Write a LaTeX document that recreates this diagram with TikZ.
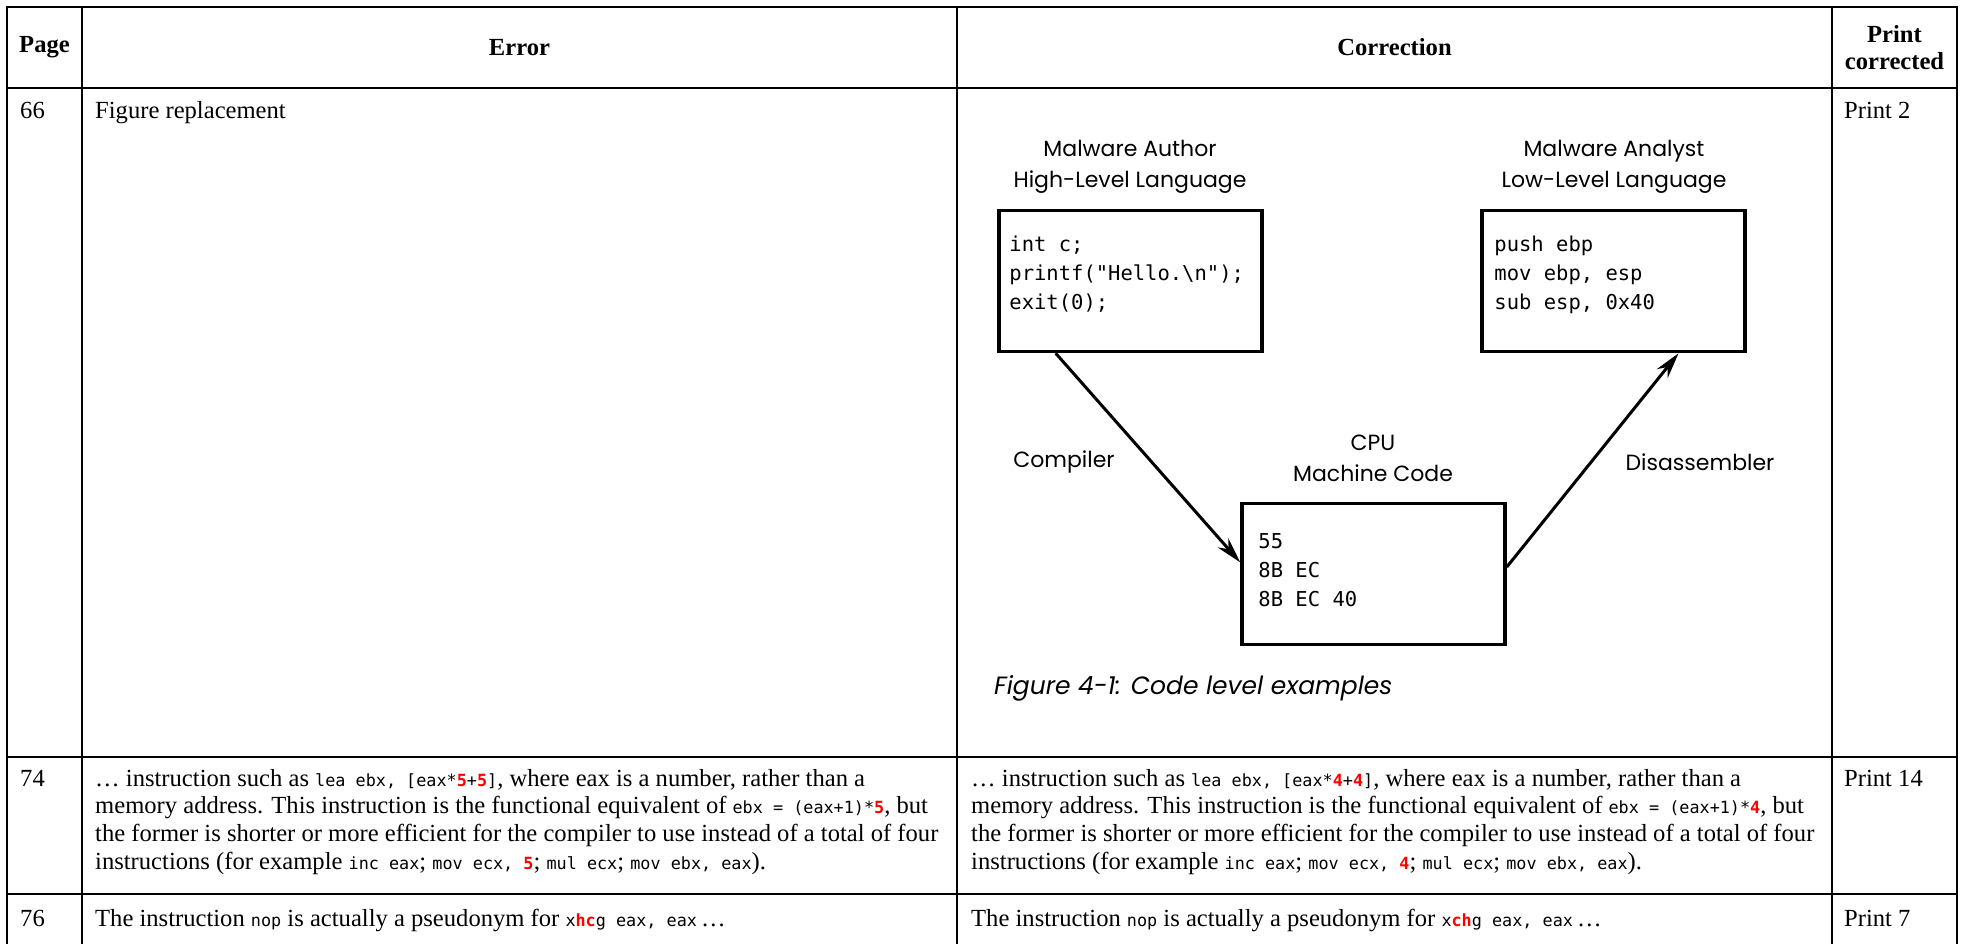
\documentclass[tikz,border=0pt]{standalone}
\usepackage{fontspec}
\setmainfont{Liberation Serif}
\setmonofont{DejaVu Sans Mono}
\newfontfamily\figfont{Poppins}
\newfontfamily\codefont{DejaVu Sans Mono}
\usetikzlibrary{positioning,arrows.meta}
\newcommand\bodysize{\fontsize{24.6}{27.6}\selectfont}
\newcommand\codesize{\codefont\fontsize{20.5}{29}\selectfont}
\newcommand\figsize{\figfont\fontsize{22}{31}\selectfont}
\newcommand\cd[1]{{\fontsize{16.8}{16}\ttfamily #1}}
\newcommand\fix[1]{{\color{red}\bfseries #1}}

\begin{document}
\begin{tikzpicture}[x=1pt,y=-1pt]
\tikzstyle{rule} = [line width=2.6pt, line cap=rect]
\tikzstyle{head} = [inner sep=0pt, align=center, font=\bodysize\bfseries]
\tikzstyle{cell} = [inner sep=0pt, align=left, font=\bodysize]
\tikzstyle{block} = [rectangle, minimum width=263pt, minimum height=141pt, line width=3.5pt, draw=black]
\tikzstyle{code} = [inner sep=0pt, align=left, anchor=north west, font=\codesize]
\tikzstyle{figtext} = [inner sep=0pt, align=center, font=\figsize]
\tikzstyle{arrow} = [line width=3pt, -{Stealth[length=26pt, width=14pt]}]
%
\path[use as bounding box, fill=white] (0,0) rectangle (1967,943);
%
% the replacement figure
\node (1) [block] at (1130.5,281) {};
\node (2) [block] at (1613.5,281) {};
\node (3) [block] at (1373.5,574) {};
\node (l1) [figtext] at (1130,167) {Malware Author\\High-Level Language};
\node (l2) [figtext] at (1614,167) {Malware Analyst\\Low-Level Language};
\node (l3) [figtext] at (1373,458) {CPU\\Machine Code};
\node (l4) [figtext] at (1064,462) {Compiler};
\node (l5) [figtext] at (1700,462) {Disassembler};
\node (fig) [figtext, anchor=west, font=\figfont\fontsize{25}{30}\selectfont\itshape] at (994,688) {Figure 4-1: Code level examples};
\node (c1) [code] at ([xshift=12pt,yshift=-27pt]1.north west) {int c;\\printf("Hello.\textbackslash n");\\exit(0);};
\node (c2) [code] at ([xshift=14pt,yshift=-27pt]2.north west) {push ebp\\mov ebp, esp\\sub esp, 0x40};
\node (c3) [code] at ([xshift=18pt,yshift=-32pt]3.north west) {55\\8B EC\\8B EC 40};
\draw [arrow] (1.224) -- (3.175);
\draw [arrow] (3.3) -- (2.-48);
%
% table text
\node (p) [head] at (44.5,47.5) {Page};
\node (e) [head] at (519.5,47.5) {Error};
\node (c) [head] at (1394.5,47.5) {Correction};
\node (pc) [head] at (1894.5,47.5) {Print\\corrected};
%
\node (r1) [cell, anchor=base west] at (20,118) {66};
\node (r1e) [cell, anchor=base west] at (95,118) {Figure replacement};
\node (r1p) [cell, anchor=base west] at (1844,118) {Print 2};
%
\node (r2) [cell, anchor=base west] at (20,786) {74};
\node (r2e) [cell, anchor=north west] at (95,769) {\dots\ instruction such as \cd{lea ebx, [eax*\fix{5}+\fix{5}]}, where eax is a number, rather than a\\
memory address. This instruction is the functional equivalent of \cd{ebx = (eax+1)*\fix{5}}, but\\
the former is shorter or more efficient for the compiler to use instead of a total of four\\
instructions (for example \cd{inc eax}; \cd{mov ecx, \fix{5}}; \cd{mul ecx}; \cd{mov ebx, eax}).};
\node (r2c) [cell, anchor=north west] at (971,769) {\dots\ instruction such as \cd{lea ebx, [eax*\fix{4}+\fix{4}]}, where eax is a number, rather than a\\
memory address. This instruction is the functional equivalent of \cd{ebx = (eax+1)*\fix{4}}, but\\
the former is shorter or more efficient for the compiler to use instead of a total of four\\
instructions (for example \cd{inc eax}; \cd{mov ecx, \fix{4}}; \cd{mul ecx}; \cd{mov ebx, eax}).};
\node (r2p) [cell, anchor=base west] at (1844,786) {Print 14};
%
\node (r3) [cell, anchor=base west] at (20,926) {76};
\node (r3e) [cell, anchor=base west] at (95,926) {The instruction \cd{nop} is actually a pseudonym for \cd{x\fix{hc}g eax, eax}\,\dots};
\node (r3c) [cell, anchor=base west] at (971,926) {The instruction \cd{nop} is actually a pseudonym for \cd{x\fix{ch}g eax, eax}\,\dots};
\node (r3p) [cell, anchor=base west] at (1844,926) {Print 7};
%
% table rules
\draw [rule] (7,7) -- (1957,7);
\draw [rule] (7,88) -- (1957,88);
\draw [rule] (7,757) -- (1957,757);
\draw [rule] (7,894) -- (1957,894);
\draw [rule] (7,7) -- (7,950);
\draw [rule] (82,7) -- (82,950);
\draw [rule] (957,7) -- (957,950);
\draw [rule] (1832,7) -- (1832,950);
\draw [rule] (1957,7) -- (1957,950);
\end{tikzpicture}
\end{document}
